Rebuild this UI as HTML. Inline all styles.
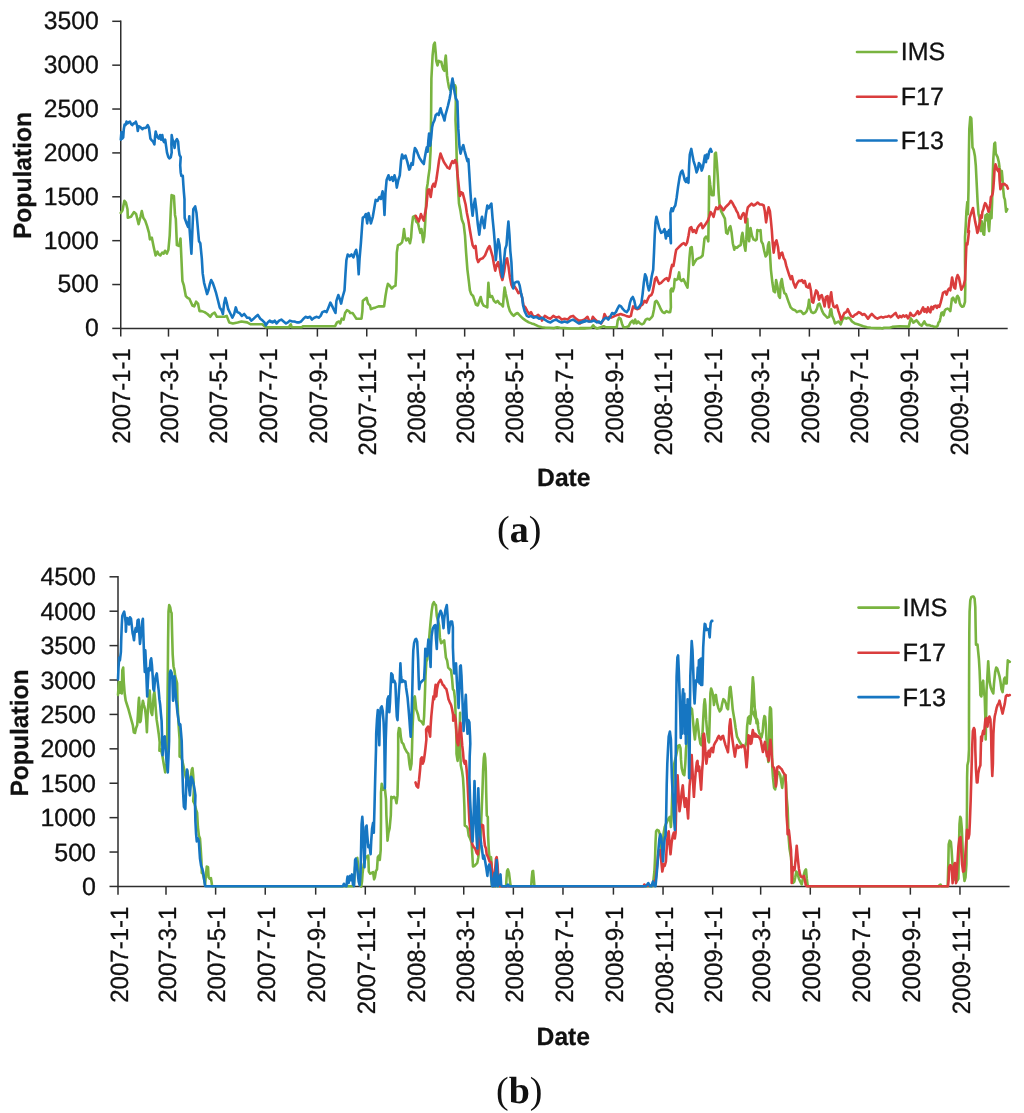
<!DOCTYPE html>
<html><head><meta charset="utf-8"><title>Population charts</title>
<style>
html,body{margin:0;padding:0;background:#fff;}
svg{display:block;will-change:transform;}
text{text-rendering:geometricPrecision;}
.t{font-family:"Liberation Sans",sans-serif;font-size:25px;fill:#111;stroke:#111;stroke-width:0.3px;}
.b{font-family:"Liberation Sans",sans-serif;font-size:25px;font-weight:bold;fill:#111;stroke:#111;stroke-width:0.25px;}
.c{font-family:"Liberation Serif",serif;font-size:38px;fill:#111;}
</style></head><body>
<svg width="1024" height="1113" viewBox="0 0 1024 1113">
<rect width="1024" height="1113" fill="#fff"/>
<polyline points="120.75,20.55 120.75,328.4 1007.7,328.4" fill="none" stroke="#2e2e2e" stroke-width="1.5"/>
<line x1="112.25" x2="120.75" y1="328.40" y2="328.40" stroke="#2e2e2e" stroke-width="1.5"/>
<text transform="translate(98.8,336.30) scale(0.99,1)" text-anchor="end" class="t">0</text>
<line x1="112.25" x2="120.75" y1="284.53" y2="284.53" stroke="#2e2e2e" stroke-width="1.5"/>
<text transform="translate(98.8,292.43) scale(0.99,1)" text-anchor="end" class="t">500</text>
<line x1="112.25" x2="120.75" y1="240.66" y2="240.66" stroke="#2e2e2e" stroke-width="1.5"/>
<text transform="translate(98.8,248.56) scale(0.99,1)" text-anchor="end" class="t">1000</text>
<line x1="112.25" x2="120.75" y1="196.79" y2="196.79" stroke="#2e2e2e" stroke-width="1.5"/>
<text transform="translate(98.8,204.69) scale(0.99,1)" text-anchor="end" class="t">1500</text>
<line x1="112.25" x2="120.75" y1="152.91" y2="152.91" stroke="#2e2e2e" stroke-width="1.5"/>
<text transform="translate(98.8,160.81) scale(0.99,1)" text-anchor="end" class="t">2000</text>
<line x1="112.25" x2="120.75" y1="109.04" y2="109.04" stroke="#2e2e2e" stroke-width="1.5"/>
<text transform="translate(98.8,116.94) scale(0.99,1)" text-anchor="end" class="t">2500</text>
<line x1="112.25" x2="120.75" y1="65.17" y2="65.17" stroke="#2e2e2e" stroke-width="1.5"/>
<text transform="translate(98.8,73.07) scale(0.99,1)" text-anchor="end" class="t">3000</text>
<line x1="112.25" x2="120.75" y1="21.30" y2="21.30" stroke="#2e2e2e" stroke-width="1.5"/>
<text transform="translate(98.8,29.20) scale(0.99,1)" text-anchor="end" class="t">3500</text>
<line x1="120.75" x2="120.75" y1="328.4" y2="336.59999999999997" stroke="#2e2e2e" stroke-width="1.5"/>
<text transform="translate(130.05,348.3) rotate(-90) scale(0.955,1)" text-anchor="end" class="t">2007-1-1</text>
<line x1="168.49" x2="168.49" y1="328.4" y2="336.59999999999997" stroke="#2e2e2e" stroke-width="1.5"/>
<text transform="translate(177.79,348.3) rotate(-90) scale(0.955,1)" text-anchor="end" class="t">2007-3-1</text>
<line x1="217.85" x2="217.85" y1="328.4" y2="336.59999999999997" stroke="#2e2e2e" stroke-width="1.5"/>
<text transform="translate(227.15,348.3) rotate(-90) scale(0.955,1)" text-anchor="end" class="t">2007-5-1</text>
<line x1="267.22" x2="267.22" y1="328.4" y2="336.59999999999997" stroke="#2e2e2e" stroke-width="1.5"/>
<text transform="translate(276.52,348.3) rotate(-90) scale(0.955,1)" text-anchor="end" class="t">2007-7-1</text>
<line x1="317.39" x2="317.39" y1="328.4" y2="336.59999999999997" stroke="#2e2e2e" stroke-width="1.5"/>
<text transform="translate(326.69,348.3) rotate(-90) scale(0.955,1)" text-anchor="end" class="t">2007-9-1</text>
<line x1="366.75" x2="366.75" y1="328.4" y2="336.59999999999997" stroke="#2e2e2e" stroke-width="1.5"/>
<text transform="translate(376.05,348.3) rotate(-90) scale(0.955,1)" text-anchor="end" class="t">2007-11-1</text>
<line x1="416.11" x2="416.11" y1="328.4" y2="336.59999999999997" stroke="#2e2e2e" stroke-width="1.5"/>
<text transform="translate(425.41,348.3) rotate(-90) scale(0.955,1)" text-anchor="end" class="t">2008-1-1</text>
<line x1="464.66" x2="464.66" y1="328.4" y2="336.59999999999997" stroke="#2e2e2e" stroke-width="1.5"/>
<text transform="translate(473.96,348.3) rotate(-90) scale(0.955,1)" text-anchor="end" class="t">2008-3-1</text>
<line x1="514.02" x2="514.02" y1="328.4" y2="336.59999999999997" stroke="#2e2e2e" stroke-width="1.5"/>
<text transform="translate(523.32,348.3) rotate(-90) scale(0.955,1)" text-anchor="end" class="t">2008-5-1</text>
<line x1="563.38" x2="563.38" y1="328.4" y2="336.59999999999997" stroke="#2e2e2e" stroke-width="1.5"/>
<text transform="translate(572.68,348.3) rotate(-90) scale(0.955,1)" text-anchor="end" class="t">2008-7-1</text>
<line x1="613.55" x2="613.55" y1="328.4" y2="336.59999999999997" stroke="#2e2e2e" stroke-width="1.5"/>
<text transform="translate(622.85,348.3) rotate(-90) scale(0.955,1)" text-anchor="end" class="t">2008-9-1</text>
<line x1="662.91" x2="662.91" y1="328.4" y2="336.59999999999997" stroke="#2e2e2e" stroke-width="1.5"/>
<text transform="translate(672.21,348.3) rotate(-90) scale(0.955,1)" text-anchor="end" class="t">2008-11-1</text>
<line x1="712.28" x2="712.28" y1="328.4" y2="336.59999999999997" stroke="#2e2e2e" stroke-width="1.5"/>
<text transform="translate(721.58,348.3) rotate(-90) scale(0.955,1)" text-anchor="end" class="t">2009-1-1</text>
<line x1="760.02" x2="760.02" y1="328.4" y2="336.59999999999997" stroke="#2e2e2e" stroke-width="1.5"/>
<text transform="translate(769.32,348.3) rotate(-90) scale(0.955,1)" text-anchor="end" class="t">2009-3-1</text>
<line x1="809.38" x2="809.38" y1="328.4" y2="336.59999999999997" stroke="#2e2e2e" stroke-width="1.5"/>
<text transform="translate(818.68,348.3) rotate(-90) scale(0.955,1)" text-anchor="end" class="t">2009-5-1</text>
<line x1="858.74" x2="858.74" y1="328.4" y2="336.59999999999997" stroke="#2e2e2e" stroke-width="1.5"/>
<text transform="translate(868.04,348.3) rotate(-90) scale(0.955,1)" text-anchor="end" class="t">2009-7-1</text>
<line x1="908.91" x2="908.91" y1="328.4" y2="336.59999999999997" stroke="#2e2e2e" stroke-width="1.5"/>
<text transform="translate(918.21,348.3) rotate(-90) scale(0.955,1)" text-anchor="end" class="t">2009-9-1</text>
<line x1="958.27" x2="958.27" y1="328.4" y2="336.59999999999997" stroke="#2e2e2e" stroke-width="1.5"/>
<text transform="translate(967.57,348.3) rotate(-90) scale(0.955,1)" text-anchor="end" class="t">2009-11-1</text>
<polyline points="120.7,213.0 122.5,210.2 124.4,200.8 125.9,202.6 127.5,209.2 127.8,217.7 131.0,216.8 133.9,212.1 136.1,214.0 138.6,224.3 140.5,216.8 141.8,211.1 143.3,217.7 145.2,220.6 147.1,226.2 149.0,232.8 149.9,239.4 151.8,237.6 153.7,247.0 155.6,255.5 157.4,251.7 158.8,254.5 160.3,255.5 162.2,252.6 163.7,253.6 165.0,250.8 166.9,253.6 168.4,249.8 169.7,235.7 170.8,209.2 171.6,195.1 173.9,196.0 175.0,214.9 175.8,218.7 176.9,245.1 179.2,246.0 180.5,238.5 181.4,258.3 182.4,280.9 183.9,285.7 185.8,296.0 187.6,297.9 189.5,298.9 192.4,305.5 194.2,306.4 196.1,301.7 198.0,303.6 199.5,311.1 201.8,311.1 204.6,312.1 207.4,314.0 210.3,316.8 212.2,314.0 214.6,312.6 216.9,316.8 220.7,316.8 224.4,316.8 226.7,315.9 229.2,322.4 232.9,323.4 237.6,322.4 241.4,321.5 247.1,322.4 250.8,324.3 256.5,324.3 262.2,324.3 265.9,327.2 275.0,327.2 270.0,327.2 279.4,327.2 288.9,327.2 290.8,324.3 291.7,327.2 302.1,327.2 303.0,326.2 317.2,326.2 335.1,326.2 337.0,322.4 338.9,321.5 340.2,323.4 341.7,318.7 343.6,319.6 345.1,313.0 347.0,310.2 348.9,311.1 350.2,313.0 352.6,313.0 354.5,315.9 356.4,318.7 358.7,318.7 361.5,318.7 362.4,311.1 362.8,300.8 365.3,298.9 366.6,297.9 368.1,303.6 370.0,305.5 370.9,309.2 372.8,308.3 375.7,307.4 378.5,306.4 381.3,306.4 384.1,306.4 385.5,296.0 386.6,289.4 387.9,283.8 389.8,285.7 391.7,288.5 393.6,286.6 395.5,285.7 396.4,269.6 396.8,252.6 397.9,245.1 400.2,244.2 402.1,242.3 403.0,237.6 404.0,229.1 404.9,236.6 406.2,240.4 408.1,238.5 410.0,243.2 411.1,237.6 411.9,226.2 413.0,216.8 414.9,215.8 416.2,221.5 418.1,223.4 419.1,228.1 420.4,232.8 421.5,229.1 422.4,235.7 423.2,242.3 424.3,236.6 425.1,224.3 426.8,188.5 427.6,183.9 428.3,177.8 429.6,168.6 430.6,150.3 431.1,116.7 431.4,78.5 432.6,55.5 433.7,44.9 434.8,42.6 435.7,52.5 436.3,60.9 437.5,65.5 438.7,60.9 439.9,61.7 441.3,61.7 442.1,65.5 443.3,69.3 444.4,70.8 445.1,60.1 445.8,55.5 446.4,64.7 447.0,75.4 447.9,81.5 449.0,87.6 450.0,89.9 451.2,89.2 452.0,84.6 452.8,81.5 453.5,85.3 455.1,85.3 455.8,87.6 455.8,104.4 455.5,119.7 456.1,133.8 456.7,158.3 458.0,186.6 459.0,203.6 460.5,211.1 461.8,219.6 463.7,224.3 465.0,235.7 466.1,252.6 467.4,269.6 468.8,280.9 469.9,290.4 471.2,294.1 473.1,296.0 474.4,299.8 475.9,304.5 477.8,305.5 479.3,300.8 480.7,297.0 482.0,302.6 483.5,305.5 485.4,306.4 487.3,307.4 487.8,294.1 488.4,282.8 489.1,292.3 490.1,297.0 492.0,296.0 493.9,300.8 495.8,302.6 497.6,300.8 499.5,303.6 501.4,304.5 502.9,306.4 503.9,294.1 504.6,287.6 505.8,294.1 507.1,299.8 508.4,306.4 509.9,311.1 511.8,314.0 513.7,315.9 515.6,314.0 517.5,313.0 519.3,314.9 521.2,316.8 523.1,318.7 525.9,320.6 528.8,322.4 531.6,323.4 534.4,324.3 538.2,326.2 542.0,327.2 545.8,327.7 549.5,327.7 554.2,328.1 557.1,327.2 559.9,327.7 564.6,328.1 570.3,328.5 575.9,328.5 585.0,328.5 580.0,328.1 585.7,328.1 591.3,327.7 593.2,325.3 594.7,327.2 597.0,328.5 600.8,327.2 603.6,326.2 605.5,327.2 608.3,327.2 612.1,327.2 616.8,327.2 617.7,320.6 619.2,317.7 620.6,318.7 621.9,323.4 623.4,327.2 626.2,327.2 628.7,326.2 630.6,322.4 632.5,320.6 633.8,323.4 635.1,319.6 636.6,323.4 638.1,321.5 640.0,323.4 641.9,324.3 643.8,323.4 645.7,319.6 647.5,318.7 649.4,319.6 651.3,317.7 652.6,315.9 654.0,309.2 655.1,301.7 656.4,300.8 657.7,302.6 659.2,305.5 660.8,309.2 662.6,312.1 664.5,313.0 666.4,311.1 668.3,312.1 670.2,312.1 670.9,307.4 670.6,290.4 671.5,288.5 672.8,291.3 674.0,287.6 674.7,279.1 676.2,280.0 677.7,279.1 679.1,272.4 680.0,279.1 681.5,280.9 683.4,279.1 684.7,281.9 686.0,284.7 687.5,287.6 688.5,273.4 689.4,258.3 690.4,247.9 691.7,247.0 692.5,254.5 693.2,264.9 694.7,262.1 696.6,259.2 698.5,258.3 700.8,257.4 702.6,255.5 703.6,247.0 704.5,238.5 706.0,236.6 707.4,238.5 708.3,241.3 708.9,205.5 709.2,176.2 710.2,184.7 711.7,195.1 713.6,195.1 714.3,177.2 714.9,153.6 715.9,152.6 716.8,162.1 717.7,175.3 718.7,194.2 719.6,205.5 721.1,211.1 723.0,214.9 724.9,218.7 726.2,232.8 727.5,233.8 729.1,228.1 730.4,226.2 731.5,231.9 732.8,243.2 734.3,249.8 735.0,247.0 736.9,247.9 738.8,246.0 740.7,245.1 741.6,236.6 742.5,232.8 743.9,243.2 745.4,250.8 746.3,239.4 747.3,218.7 748.2,234.7 749.1,241.3 750.5,228.1 752.0,235.7 753.5,239.4 755.4,240.4 756.7,239.4 757.3,230.0 759.1,230.9 760.5,230.0 761.4,241.3 762.9,244.2 764.2,250.8 765.6,256.4 767.1,254.5 768.0,245.1 769.0,242.3 769.9,252.6 770.9,269.6 772.4,282.8 773.7,291.3 775.0,292.3 776.1,280.0 777.5,286.6 778.8,296.0 779.9,297.9 780.7,282.8 781.8,279.1 783.1,287.6 784.4,293.2 785.9,294.1 787.5,298.9 788.8,302.6 790.7,307.4 792.5,309.2 795.0,310.2 796.9,312.1 799.1,311.1 801.0,311.1 803.3,314.0 805.2,313.0 806.7,311.1 808.2,306.4 809.0,299.8 810.1,308.3 811.4,312.1 813.3,313.0 815.2,312.1 817.1,308.3 818.0,304.5 819.5,303.6 820.9,307.4 822.2,311.1 823.7,314.0 825.6,315.9 827.5,317.7 829.3,316.8 830.3,310.2 831.2,309.2 832.2,315.9 833.5,318.7 835.0,323.4 836.9,322.4 838.8,321.5 840.7,324.3 842.5,319.6 844.4,317.7 846.3,318.7 848.2,317.7 850.1,318.7 852.0,321.5 854.8,323.4 857.6,324.3 860.5,325.3 863.3,326.2 867.1,327.2 870.9,327.7 876.5,328.1 880.3,328.1 882.2,328.5 884.1,327.7 889.7,327.7 892.3,326.9 899.6,326.3 908.8,326.6 910.0,321.4 910.9,318.4 912.1,320.2 913.3,322.7 914.9,321.4 916.5,320.2 918.0,322.1 919.8,324.5 921.6,325.7 923.5,322.7 924.3,321.4 925.5,323.9 927.1,325.1 929.0,325.1 930.8,325.7 932.6,326.1 934.4,326.9 936.3,326.9 937.7,325.7 938.5,322.7 939.7,321.4 940.5,317.8 941.4,312.9 942.6,312.3 943.6,315.3 944.8,310.4 946.0,309.2 947.5,308.6 948.7,309.2 950.3,311.1 951.2,304.4 951.9,298.9 953.1,297.6 954.3,300.1 955.6,302.5 956.8,297.0 957.6,295.8 958.9,298.2 959.7,303.1 960.9,305.6 962.1,306.8 963.7,306.2 965.0,301.9 965.3,286.0 965.0,261.6 965.0,237.2 965.7,226.2 966.4,211.7 967.3,202.0 967.9,214.1 968.5,189.8 968.9,153.5 969.3,129.2 970.3,117.1 971.3,118.3 971.8,129.2 972.5,147.4 973.7,149.8 974.9,155.9 975.8,165.6 976.4,177.7 977.0,189.8 977.6,202.0 978.5,214.1 979.4,217.7 980.0,226.2 981.0,231.1 981.8,221.4 982.7,226.2 983.4,234.1 984.2,234.7 984.9,221.4 985.5,215.3 986.1,220.2 987.0,214.1 987.9,214.7 988.5,226.2 989.1,231.1 989.7,221.4 990.3,211.7 990.9,214.1 991.5,218.3 992.1,202.0 992.7,177.7 993.3,159.6 994.3,143.8 995.1,142.6 995.8,153.5 996.7,155.3 997.6,157.1 998.8,162.0 999.6,168.0 1000.6,172.9 1001.2,180.2 1001.8,171.1 1002.4,177.7 1003.0,187.4 1004.0,197.1 1004.9,199.6 1005.5,205.6 1006.1,211.7 1007.3,209.2" fill="none" stroke="#79b440" stroke-width="2.6" stroke-linejoin="round" stroke-linecap="round"/>
<polyline points="415.7,215.8 417.2,218.7 418.7,221.5 420.0,217.7 420.9,214.0 422.4,217.7 423.8,220.6 425.1,213.0 425.0,214.0 426.5,205.5 427.8,190.4 429.1,189.4 430.7,197.0 432.2,186.6 433.5,183.8 434.8,186.6 436.3,180.0 437.8,169.6 439.1,160.2 440.5,153.6 442.0,157.4 443.9,162.1 445.8,164.9 447.6,167.7 449.5,168.7 451.0,164.0 452.4,161.1 453.7,163.0 455.2,160.2 456.7,164.0 457.4,173.4 458.6,184.7 459.9,196.0 461.2,192.3 462.7,193.2 464.2,198.9 465.6,204.5 466.9,213.0 468.4,220.6 469.9,230.0 471.2,237.6 472.6,245.1 474.1,247.9 475.6,246.0 476.9,258.3 478.2,262.1 480.1,259.2 482.6,258.3 485.0,255.5 486.9,250.8 488.2,247.9 489.5,246.0 491.0,250.8 492.6,256.4 493.9,264.0 495.2,270.6 496.7,264.9 498.2,262.1 499.5,267.7 500.9,275.3 502.4,280.0 504.2,271.5 505.8,260.2 507.1,258.3 508.4,265.9 509.9,277.2 511.4,284.7 512.7,287.6 514.6,286.6 516.5,289.4 518.4,293.2 520.3,291.3 522.2,297.9 523.5,305.5 525.4,307.4 527.3,311.1 529.1,314.0 531.0,312.1 532.9,315.9 535.4,316.8 538.2,314.9 541.0,317.7 542.0,320.6 544.8,315.9 547.6,317.7 550.5,318.7 553.3,315.9 556.1,317.7 559.0,316.8 561.8,319.6 564.6,318.7 567.5,319.6 570.3,316.8 573.1,315.9 575.9,318.7 578.8,320.6 581.6,320.6 585.0,319.6 580.0,323.4 582.8,320.6 585.3,318.7 587.5,316.8 589.4,321.5 591.7,320.6 592.8,316.8 595.1,319.6 597.4,321.5 598.9,322.4 601.1,323.4 603.0,320.6 604.5,314.0 606.0,316.8 607.9,318.7 609.2,316.8 611.1,317.7 613.0,316.8 614.9,315.9 617.7,314.9 620.6,314.0 623.4,314.9 626.2,315.9 629.1,316.8 630.9,315.9 631.9,311.1 633.2,306.4 635.1,308.3 637.5,309.2 639.4,308.3 640.8,305.5 642.6,304.5 644.5,300.8 646.4,302.6 647.9,298.9 649.4,296.0 651.3,295.1 652.6,292.3 654.0,284.7 655.1,279.1 656.4,277.2 657.7,280.9 659.2,283.8 661.1,282.8 663.0,280.9 664.9,279.1 666.8,278.1 668.3,280.9 669.6,277.2 670.9,269.6 672.1,264.9 673.4,265.9 674.3,261.1 675.3,254.5 676.2,249.8 678.1,247.9 680.0,246.0 681.9,244.2 683.8,243.2 685.7,245.1 687.2,242.3 688.5,235.7 689.8,228.1 691.3,227.2 692.8,231.9 694.1,230.0 696.0,232.8 697.4,228.1 699.2,225.3 701.1,223.4 702.6,228.1 704.1,226.2 706.0,223.4 707.9,220.6 709.2,216.8 710.6,212.1 712.1,214.0 713.6,216.8 714.9,211.1 716.2,207.4 718.1,209.2 720.0,205.5 721.5,207.4 723.4,210.2 725.3,207.4 727.2,205.5 729.1,203.6 730.9,200.8 732.8,203.6 734.7,207.4 735.0,207.4 736.5,211.1 737.8,213.0 739.1,217.7 740.7,218.7 742.2,214.9 743.5,213.0 744.8,215.8 745.4,222.4 746.7,213.0 747.8,207.4 749.7,205.5 751.6,203.6 753.5,205.5 755.4,204.5 757.6,202.6 759.9,204.5 761.8,204.5 763.7,205.5 764.8,211.1 766.1,222.4 767.5,213.0 768.6,207.4 769.9,211.1 770.9,220.6 771.8,230.0 772.7,243.2 773.7,252.6 775.0,243.2 776.5,240.4 778.0,247.0 779.3,258.3 780.7,253.6 782.2,252.6 783.7,258.3 785.0,260.2 786.3,265.9 787.8,270.6 789.3,275.3 790.7,279.1 792.0,276.2 793.5,282.8 795.4,287.6 796.9,283.8 798.8,280.9 800.7,280.9 802.0,280.0 803.3,282.8 804.8,280.9 806.3,286.6 808.2,287.6 809.5,283.8 810.9,290.4 812.0,301.7 813.3,302.6 814.6,296.0 816.1,290.4 817.6,292.3 819.0,299.8 820.3,296.0 821.8,295.1 823.3,300.8 824.6,306.4 825.9,297.0 827.5,296.0 829.0,307.4 830.3,297.0 831.2,292.3 832.2,300.8 833.5,306.4 835.0,307.4 836.9,305.5 838.4,311.1 839.7,314.9 841.0,319.6 842.5,316.8 844.4,313.0 846.3,312.1 847.8,309.2 849.1,312.1 851.0,315.9 852.9,316.8 854.8,314.9 856.7,314.0 858.6,312.1 860.5,313.0 862.4,314.9 864.2,314.0 866.1,315.9 868.0,318.7 869.9,315.9 871.8,314.0 873.7,315.9 875.6,317.7 877.5,318.7 879.3,317.7 881.2,316.8 883.1,317.7 885.0,316.8 886.9,316.8 888.8,315.9 890.7,316.8 890.5,317.2 892.3,315.9 894.2,314.1 895.7,312.9 897.0,315.9 898.4,317.8 899.9,315.9 901.5,317.2 903.1,315.3 904.5,316.6 906.4,315.3 908.0,318.4 909.2,316.6 910.4,312.9 911.9,315.3 913.7,315.9 915.3,314.7 916.5,312.9 917.7,311.1 918.9,314.1 920.4,312.9 921.6,310.4 923.1,307.4 924.3,311.7 925.5,309.2 926.8,312.3 928.0,307.4 929.2,311.1 930.4,312.3 931.4,306.8 932.9,309.2 934.1,306.2 935.7,305.6 936.9,308.0 938.1,305.6 939.3,306.8 940.5,303.1 941.8,298.2 943.0,292.8 944.2,292.1 945.4,291.5 946.6,294.6 947.9,290.3 949.1,288.5 950.3,290.3 951.2,283.6 952.1,277.5 953.1,282.4 954.0,287.3 955.2,288.5 956.4,278.7 957.6,275.1 958.9,277.5 960.1,283.6 961.3,289.7 962.5,287.3 963.7,285.4 965.0,279.9 965.6,265.3 966.2,249.4 966.5,243.3 967.4,244.5 968.2,238.4 969.0,231.1 968.1,232.3 968.9,223.8 969.7,217.7 970.9,214.1 972.1,210.4 973.0,208.0 973.9,214.1 975.1,221.4 976.4,227.4 977.3,232.9 978.2,231.1 979.0,226.2 980.0,221.4 981.0,215.3 981.8,217.7 982.4,211.7 983.4,209.2 984.2,205.6 985.1,203.2 986.1,204.4 987.0,206.8 987.9,209.2 988.5,211.7 989.5,209.2 990.3,203.2 990.9,197.1 991.9,195.9 992.7,193.5 993.3,188.6 993.9,180.2 994.5,170.4 995.5,164.4 996.4,166.8 997.2,169.8 998.2,171.1 999.1,169.2 999.6,180.2 1000.4,189.2 1001.2,187.4 1002.1,184.4 1003.0,184.4 1004.2,183.8 1005.5,185.0 1006.7,185.6 1007.9,188.6" fill="none" stroke="#da3d3d" stroke-width="2.6" stroke-linejoin="round" stroke-linecap="round"/>
<polyline points="120.8,139.7 121.4,132.1 122.2,138.6 123.2,137.4 123.8,129.2 124.6,124.5 125.5,125.1 126.5,121.6 127.6,123.4 128.8,122.2 129.9,121.6 131.1,124.0 132.3,125.1 133.5,123.4 134.6,123.4 135.8,121.6 137.0,125.1 137.8,131.0 138.7,126.3 140.1,126.9 141.3,128.0 142.4,129.2 143.6,128.0 145.1,128.0 146.3,127.5 147.7,125.1 148.9,127.5 149.7,133.3 150.4,138.6 151.8,140.3 153.0,141.5 154.4,144.4 155.1,136.2 155.7,131.5 156.5,134.5 157.6,137.4 158.8,138.6 160.0,135.1 161.1,139.7 162.3,135.1 163.1,140.3 164.1,142.1 165.2,139.7 166.1,146.1 167.0,152.6 168.2,156.7 169.3,158.4 170.8,157.2 171.7,152.6 171.4,144.4 171.7,135.1 172.5,139.7 173.8,143.8 174.6,147.9 175.4,141.5 176.9,139.1 178.1,141.5 178.7,149.1 179.5,154.9 180.7,157.2 180.2,165.4 180.7,172.4 181.4,175.9 182.8,175.9 183.3,184.1 183.9,192.3 184.5,199.3 184.5,209.8 184.7,218.0 186.3,222.7 188.0,226.8 188.8,221.5 189.3,216.2 189.5,228.1 191.4,253.6 192.4,230.0 193.3,209.2 195.2,206.4 196.5,213.0 198.0,230.0 199.0,241.3 200.3,243.2 201.8,258.3 202.7,273.4 204.1,282.8 205.6,288.5 207.1,294.1 208.4,290.4 209.9,283.8 211.2,280.0 212.7,282.8 214.4,287.6 215.9,292.3 217.8,299.8 219.7,307.4 221.6,310.2 222.9,314.0 224.1,303.6 225.4,297.9 226.7,302.6 228.2,309.2 230.1,313.0 232.4,317.7 234.2,314.0 235.8,307.4 237.3,312.1 239.5,313.0 241.8,315.9 244.2,314.0 247.1,317.7 249.3,317.7 251.2,320.6 253.7,318.7 255.6,316.8 257.8,314.9 260.3,318.7 262.6,320.6 264.4,322.4 265.9,325.3 267.8,322.4 269.7,320.6 272.6,322.4 275.0,321.5 270.0,321.5 272.8,322.4 274.7,320.6 276.6,323.4 279.1,320.6 281.3,319.6 283.6,321.5 286.0,323.4 287.9,322.4 289.8,320.6 292.3,321.5 294.5,321.5 296.8,322.4 299.2,322.4 301.1,321.5 303.6,318.7 305.5,316.8 307.7,317.7 310.0,316.8 311.9,319.6 314.3,317.7 316.8,316.8 318.7,317.7 320.6,315.9 322.4,312.1 324.7,311.1 326.6,312.1 328.5,307.4 330.4,302.6 332.3,306.4 334.1,310.2 335.5,313.0 336.4,300.8 338.3,295.1 339.8,298.9 341.1,303.6 342.6,297.0 344.5,290.4 345.5,273.4 346.4,260.2 347.7,254.5 349.6,256.4 351.5,254.5 353.4,257.4 354.9,252.6 356.2,249.8 357.7,258.3 358.7,274.3 359.6,258.3 360.9,243.2 362.1,226.2 362.8,217.7 364.3,216.8 365.9,214.0 367.2,223.4 368.5,213.0 370.0,218.7 370.9,223.4 372.8,216.8 374.7,205.5 375.7,199.8 377.6,200.8 379.4,197.0 380.9,198.9 382.6,191.3 383.8,201.7 384.5,214.9 385.5,192.3 386.6,180.0 388.5,175.3 389.8,180.0 391.7,177.2 393.0,180.9 394.5,175.3 396.0,180.9 396.8,187.6 398.3,180.0 399.8,175.3 401.1,160.2 402.1,154.5 403.6,158.3 405.5,155.5 407.4,162.1 409.2,169.6 410.0,168.6 411.5,163.2 412.8,164.8 413.8,154.8 414.9,148.0 416.4,150.3 417.9,154.1 419.5,157.9 421.0,160.2 422.5,162.5 423.8,164.0 425.0,156.4 426.0,151.0 426.8,147.2 427.6,151.8 428.3,141.1 429.1,133.5 430.2,145.7 431.1,138.1 432.1,127.3 433.2,122.8 434.4,120.5 435.7,115.1 437.2,113.6 438.7,115.1 439.8,110.5 440.6,108.3 441.8,112.8 443.3,116.7 444.5,120.5 445.4,115.1 446.7,110.5 447.9,106.0 449.0,101.4 449.7,98.3 450.5,93.7 451.2,86.1 452.5,78.5 453.5,84.6 454.6,92.2 455.8,98.3 457.4,101.4 457.8,113.6 458.3,128.9 459.5,147.0 460.5,153.6 461.8,148.9 463.3,145.1 464.6,150.8 466.1,156.4 467.4,161.1 468.4,159.2 469.3,173.4 470.3,190.4 471.4,205.5 472.6,215.8 473.7,205.5 475.0,198.9 476.3,209.2 477.8,224.3 479.3,234.7 480.7,222.4 482.0,216.8 483.1,222.4 484.4,228.1 485.8,214.9 487.3,205.5 488.8,208.3 490.1,205.5 491.4,203.6 492.6,218.7 493.9,231.9 494.8,243.2 495.8,260.2 496.7,250.8 498.2,239.4 499.5,245.1 500.5,258.3 501.4,271.5 502.4,277.2 503.9,262.1 505.2,248.9 506.5,245.1 507.6,230.0 508.4,221.5 509.5,235.7 510.3,250.8 511.4,262.1 512.2,279.1 513.3,288.5 514.6,282.8 516.5,281.9 518.4,281.9 519.7,285.7 520.9,292.3 522.2,297.9 523.1,305.5 524.6,311.1 526.9,315.9 528.8,316.8 530.7,315.9 533.5,317.7 536.3,316.8 539.1,318.7 542.0,317.7 544.8,319.6 547.6,321.5 550.5,322.4 553.3,320.6 556.1,319.6 559.0,321.5 561.8,322.4 564.6,321.5 567.5,322.4 570.3,320.6 573.1,319.6 575.9,321.5 578.8,323.4 581.6,322.4 585.0,321.5 580.0,322.4 582.8,321.5 585.7,320.6 588.5,321.5 591.3,321.5 594.1,320.6 597.0,322.4 598.9,321.5 600.8,323.4 602.6,320.6 604.5,318.7 606.4,317.7 608.3,319.6 610.2,316.8 612.1,313.0 614.0,314.0 615.9,312.1 617.7,308.3 619.2,305.5 621.1,306.4 623.0,309.2 624.9,311.1 626.8,312.1 628.7,309.2 630.0,302.6 631.3,298.9 632.8,297.0 634.3,300.8 635.7,307.4 637.5,308.3 639.4,306.4 641.3,303.6 642.6,294.1 643.8,282.8 645.1,274.3 646.4,277.2 647.5,284.7 648.9,290.4 650.2,285.7 651.7,276.2 653.2,269.6 654.0,252.6 654.7,235.7 655.5,222.4 656.4,216.8 657.7,221.5 659.2,228.1 661.1,232.8 663.0,231.9 664.5,229.1 665.9,238.5 667.2,231.9 668.3,235.7 669.1,230.0 670.2,236.6 670.9,243.2 670.4,213.0 671.5,208.3 672.8,211.1 674.0,207.4 675.3,205.5 676.6,197.9 678.1,186.6 679.6,177.2 680.9,172.4 682.3,170.6 683.4,174.3 684.7,180.0 686.0,181.9 687.2,178.1 688.5,182.8 689.1,165.8 689.8,154.5 691.3,148.9 692.5,155.5 693.6,161.1 695.1,165.8 696.6,172.4 697.9,168.7 698.9,163.0 700.4,164.9 701.7,170.6 703.0,166.8 704.1,160.2 704.9,155.5 706.0,162.1 706.8,154.5 707.9,158.3 709.2,151.7 710.6,148.9 711.7,151.7" fill="none" stroke="#1676c2" stroke-width="2.6" stroke-linejoin="round" stroke-linecap="round"/>
<line x1="857" x2="896.5" y1="52.0" y2="52.0" stroke="#79b440" stroke-width="2.6" stroke-linecap="round"/>
<text transform="translate(900.8,60.0) scale(1.0,1)" class="t">IMS</text>
<line x1="857" x2="896.5" y1="96.8" y2="96.8" stroke="#da3d3d" stroke-width="2.6" stroke-linecap="round"/>
<text transform="translate(900.8,104.8) scale(1.0,1)" class="t">F17</text>
<line x1="857" x2="896.5" y1="140.5" y2="140.5" stroke="#1676c2" stroke-width="2.6" stroke-linecap="round"/>
<text transform="translate(900.8,148.5) scale(1.0,1)" class="t">F13</text>
<text transform="translate(563.8,486.3) scale(0.985,1)" text-anchor="middle" class="b">Date</text>
<text transform="translate(31.3,175.5) rotate(-90) scale(0.985,1)" text-anchor="middle" class="b">Population</text>
<text x="519.2" y="541.9" text-anchor="middle" class="c">(<tspan font-weight="bold">a</tspan>)</text>
<polyline points="118,576.05 118,886.45 1009.6,886.45" fill="none" stroke="#2e2e2e" stroke-width="1.5"/>
<line x1="109.5" x2="118" y1="886.45" y2="886.45" stroke="#2e2e2e" stroke-width="1.5"/>
<text transform="translate(96.0,895.05) scale(1.0,1)" text-anchor="end" class="t">0</text>
<line x1="109.5" x2="118" y1="852.04" y2="852.04" stroke="#2e2e2e" stroke-width="1.5"/>
<text transform="translate(96.0,860.64) scale(1.0,1)" text-anchor="end" class="t">500</text>
<line x1="109.5" x2="118" y1="817.64" y2="817.64" stroke="#2e2e2e" stroke-width="1.5"/>
<text transform="translate(96.0,826.24) scale(1.0,1)" text-anchor="end" class="t">1000</text>
<line x1="109.5" x2="118" y1="783.23" y2="783.23" stroke="#2e2e2e" stroke-width="1.5"/>
<text transform="translate(96.0,791.83) scale(1.0,1)" text-anchor="end" class="t">1500</text>
<line x1="109.5" x2="118" y1="748.83" y2="748.83" stroke="#2e2e2e" stroke-width="1.5"/>
<text transform="translate(96.0,757.43) scale(1.0,1)" text-anchor="end" class="t">2000</text>
<line x1="109.5" x2="118" y1="714.42" y2="714.42" stroke="#2e2e2e" stroke-width="1.5"/>
<text transform="translate(96.0,723.02) scale(1.0,1)" text-anchor="end" class="t">2500</text>
<line x1="109.5" x2="118" y1="680.02" y2="680.02" stroke="#2e2e2e" stroke-width="1.5"/>
<text transform="translate(96.0,688.62) scale(1.0,1)" text-anchor="end" class="t">3000</text>
<line x1="109.5" x2="118" y1="645.61" y2="645.61" stroke="#2e2e2e" stroke-width="1.5"/>
<text transform="translate(96.0,654.21) scale(1.0,1)" text-anchor="end" class="t">3500</text>
<line x1="109.5" x2="118" y1="611.21" y2="611.21" stroke="#2e2e2e" stroke-width="1.5"/>
<text transform="translate(96.0,619.81) scale(1.0,1)" text-anchor="end" class="t">4000</text>
<line x1="109.5" x2="118" y1="576.80" y2="576.80" stroke="#2e2e2e" stroke-width="1.5"/>
<text transform="translate(96.0,585.40) scale(1.0,1)" text-anchor="end" class="t">4500</text>
<line x1="118.00" x2="118.00" y1="886.45" y2="894.6500000000001" stroke="#2e2e2e" stroke-width="1.5"/>
<text transform="translate(127.80,906.5) rotate(-90) scale(0.962,1)" text-anchor="end" class="t">2007-1-1</text>
<line x1="166.00" x2="166.00" y1="886.45" y2="894.6500000000001" stroke="#2e2e2e" stroke-width="1.5"/>
<text transform="translate(175.80,906.5) rotate(-90) scale(0.962,1)" text-anchor="end" class="t">2007-3-1</text>
<line x1="215.62" x2="215.62" y1="886.45" y2="894.6500000000001" stroke="#2e2e2e" stroke-width="1.5"/>
<text transform="translate(225.42,906.5) rotate(-90) scale(0.962,1)" text-anchor="end" class="t">2007-5-1</text>
<line x1="265.24" x2="265.24" y1="886.45" y2="894.6500000000001" stroke="#2e2e2e" stroke-width="1.5"/>
<text transform="translate(275.04,906.5) rotate(-90) scale(0.962,1)" text-anchor="end" class="t">2007-7-1</text>
<line x1="315.68" x2="315.68" y1="886.45" y2="894.6500000000001" stroke="#2e2e2e" stroke-width="1.5"/>
<text transform="translate(325.48,906.5) rotate(-90) scale(0.962,1)" text-anchor="end" class="t">2007-9-1</text>
<line x1="365.30" x2="365.30" y1="886.45" y2="894.6500000000001" stroke="#2e2e2e" stroke-width="1.5"/>
<text transform="translate(375.10,906.5) rotate(-90) scale(0.962,1)" text-anchor="end" class="t">2007-11-1</text>
<line x1="414.93" x2="414.93" y1="886.45" y2="894.6500000000001" stroke="#2e2e2e" stroke-width="1.5"/>
<text transform="translate(424.73,906.5) rotate(-90) scale(0.962,1)" text-anchor="end" class="t">2008-1-1</text>
<line x1="463.74" x2="463.74" y1="886.45" y2="894.6500000000001" stroke="#2e2e2e" stroke-width="1.5"/>
<text transform="translate(473.54,906.5) rotate(-90) scale(0.962,1)" text-anchor="end" class="t">2008-3-1</text>
<line x1="513.36" x2="513.36" y1="886.45" y2="894.6500000000001" stroke="#2e2e2e" stroke-width="1.5"/>
<text transform="translate(523.16,906.5) rotate(-90) scale(0.962,1)" text-anchor="end" class="t">2008-5-1</text>
<line x1="562.98" x2="562.98" y1="886.45" y2="894.6500000000001" stroke="#2e2e2e" stroke-width="1.5"/>
<text transform="translate(572.78,906.5) rotate(-90) scale(0.962,1)" text-anchor="end" class="t">2008-7-1</text>
<line x1="613.42" x2="613.42" y1="886.45" y2="894.6500000000001" stroke="#2e2e2e" stroke-width="1.5"/>
<text transform="translate(623.22,906.5) rotate(-90) scale(0.962,1)" text-anchor="end" class="t">2008-9-1</text>
<line x1="663.04" x2="663.04" y1="886.45" y2="894.6500000000001" stroke="#2e2e2e" stroke-width="1.5"/>
<text transform="translate(672.84,906.5) rotate(-90) scale(0.962,1)" text-anchor="end" class="t">2008-11-1</text>
<line x1="712.67" x2="712.67" y1="886.45" y2="894.6500000000001" stroke="#2e2e2e" stroke-width="1.5"/>
<text transform="translate(722.47,906.5) rotate(-90) scale(0.962,1)" text-anchor="end" class="t">2009-1-1</text>
<line x1="760.66" x2="760.66" y1="886.45" y2="894.6500000000001" stroke="#2e2e2e" stroke-width="1.5"/>
<text transform="translate(770.46,906.5) rotate(-90) scale(0.962,1)" text-anchor="end" class="t">2009-3-1</text>
<line x1="810.29" x2="810.29" y1="886.45" y2="894.6500000000001" stroke="#2e2e2e" stroke-width="1.5"/>
<text transform="translate(820.09,906.5) rotate(-90) scale(0.962,1)" text-anchor="end" class="t">2009-5-1</text>
<line x1="859.91" x2="859.91" y1="886.45" y2="894.6500000000001" stroke="#2e2e2e" stroke-width="1.5"/>
<text transform="translate(869.71,906.5) rotate(-90) scale(0.962,1)" text-anchor="end" class="t">2009-7-1</text>
<line x1="910.35" x2="910.35" y1="886.45" y2="894.6500000000001" stroke="#2e2e2e" stroke-width="1.5"/>
<text transform="translate(920.15,906.5) rotate(-90) scale(0.962,1)" text-anchor="end" class="t">2009-9-1</text>
<line x1="959.97" x2="959.97" y1="886.45" y2="894.6500000000001" stroke="#2e2e2e" stroke-width="1.5"/>
<text transform="translate(969.77,906.5) rotate(-90) scale(0.962,1)" text-anchor="end" class="t">2009-11-1</text>
<polyline points="118.0,694.9 118.9,682.0 119.9,692.8 120.9,682.0 121.8,693.5 122.3,670.5 123.2,667.6 123.8,682.0 124.7,693.5 125.7,700.7 127.1,705.0 128.5,709.3 130.0,715.0 131.4,720.1 132.8,725.1 133.8,732.3 135.0,733.0 136.1,728.0 137.2,725.1 137.9,715.0 138.6,702.1 139.0,697.8 139.6,707.9 140.0,722.2 140.7,720.8 141.9,707.9 142.9,700.7 143.9,705.0 145.1,709.3 146.2,719.4 146.9,732.3 147.6,715.0 148.7,699.2 149.7,690.6 150.2,699.2 151.1,712.2 152.2,715.0 153.0,705.0 153.7,694.9 154.4,692.0 155.1,699.2 155.8,709.3 156.6,719.4 157.7,726.5 158.7,733.7 159.7,742.3 159.4,750.8 160.9,749.4 162.3,755.1 163.7,763.7 165.2,772.4 166.6,763.7 167.2,749.4 167.3,719.4 167.8,676.2 168.1,640.3 168.5,611.6 169.2,605.1 170.2,607.2 170.9,611.6 171.6,613.0 172.1,633.1 172.7,654.7 173.5,666.2 174.5,670.5 175.2,676.2 176.4,680.5 177.1,683.4 177.4,699.2 178.1,715.0 178.8,728.0 179.6,739.5 179.6,756.6 181.0,756.6 182.4,760.9 183.9,768.1 185.0,773.8 186.0,778.1 187.4,770.9 188.9,782.4 190.8,778.1 191.8,769.5 192.5,768.1 193.2,775.2 193.9,789.6 193.2,801.1 194.6,804.0 196.1,809.7 197.1,812.6 197.9,827.0 198.9,835.6 200.0,838.5 200.8,850.0 201.4,860.0 201.8,873.0 202.8,873.7 204.0,878.7 205.1,884.5 206.1,873.0 206.8,866.5 208.0,867.2 208.6,877.3 209.7,878.7 210.9,878.0 211.9,884.5 212.3,886.2 232.0,886.2 335.0,886.2 353.7,886.2 354.4,878.7 355.1,867.2 356.3,859.3 357.3,857.9 358.0,864.4 359.1,875.9 360.1,884.5 361.2,886.6 362.0,881.6 362.6,873.0 363.7,864.4 365.9,857.2 368.3,855.7 368.8,871.5 370.2,873.7 371.6,873.0 373.1,872.2 374.1,879.4 374.9,877.3 376.0,870.8 377.0,869.4 377.8,857.2 378.8,855.7 379.8,860.0 380.7,850.0 381.0,821.2 381.0,792.5 381.7,783.9 383.1,789.6 385.0,789.6 386.0,799.7 386.4,815.5 387.0,828.4 387.5,840.6 388.5,832.7 389.6,828.4 390.8,815.5 391.3,796.8 392.5,798.2 393.9,796.8 395.4,798.2 396.5,803.3 397.5,795.4 397.9,778.1 398.2,749.4 398.2,733.7 399.0,728.0 400.0,728.7 400.8,736.6 401.8,742.3 403.3,743.8 404.7,748.1 406.9,752.2 408.3,753.7 409.4,763.7 410.4,769.5 411.5,763.7 412.0,749.4 412.2,740.9 412.6,726.5 413.3,712.2 414.1,697.8 414.8,696.4 415.5,702.1 416.2,709.3 417.2,712.2 418.1,715.0 419.1,720.1 420.5,720.8 421.9,722.2 423.4,724.4 424.1,716.5 424.8,697.8 425.5,676.2 426.3,661.9 427.3,659.0 428.4,647.5 429.6,633.1 430.6,621.6 431.6,611.6 432.7,604.4 433.9,602.2 434.9,604.4 435.9,605.1 436.8,615.9 438.2,621.6 439.2,625.9 439.9,637.4 441.1,643.2 442.8,641.7 444.2,640.3 444.9,647.5 445.9,657.5 447.1,660.4 448.2,667.6 449.7,669.0 451.1,670.5 452.1,679.1 452.9,689.2 454.0,690.6 455.0,699.2 455.5,712.2 456.0,726.5 456.5,740.9 456.5,753.7 457.6,760.9 458.6,749.4 459.4,739.3 460.1,712.9 459.9,743.6 460.4,756.6 460.8,765.2 462.0,770.9 463.0,778.1 463.7,789.6 464.4,806.9 464.8,825.5 466.3,826.3 467.7,828.4 468.7,835.6 470.1,838.5 471.6,842.8 472.3,854.3 473.0,866.5 474.5,865.8 475.9,864.4 477.3,862.9 478.3,857.2 479.2,850.0 480.2,842.8 480.9,828.4 481.8,806.9 482.4,792.5 483.1,770.9 483.8,758.0 484.5,753.7 485.2,758.0 485.8,770.9 486.2,792.5 486.8,815.5 487.8,816.9 488.1,835.6 488.8,850.0 489.6,858.6 491.0,857.2 491.7,864.4 491.3,878.7 492.1,886.2 506.1,886.2 506.5,878.7 507.1,870.8 507.9,869.4 509.0,873.0 509.7,878.7 510.4,884.5 511.1,886.2 531.2,886.2 531.7,878.7 532.4,871.5 533.1,870.8 533.8,878.7 534.4,886.2 565.0,886.2 652.9,886.2 653.6,878.7 654.4,871.5 655.1,857.2 655.5,842.8 656.1,831.3 657.2,829.9 658.7,830.6 659.8,834.2 660.8,844.2 661.6,850.0 662.7,844.2 663.7,832.7 664.7,827.0 665.9,824.1 667.3,821.2 668.7,818.4 669.9,816.9 670.9,827.0 671.6,815.5 672.3,792.5 673.1,781.0 674.2,763.7 675.9,756.6 677.4,749.4 678.1,745.9 679.5,745.2 680.5,748.1 681.0,759.4 681.7,768.1 683.1,773.8 684.3,775.2 685.3,763.7 686.0,749.4 688.9,719.4 691.0,707.9 692.0,709.3 692.9,719.4 693.9,730.9 694.9,739.5 696.0,728.0 697.2,719.4 698.2,728.0 699.2,736.6 700.4,743.8 701.5,745.2 702.5,733.7 703.2,719.4 704.0,705.0 704.7,699.2 705.4,705.0 706.1,719.4 707.3,733.7 708.3,740.9 709.0,742.3 709.7,719.4 710.4,693.5 711.1,688.5 711.9,690.6 713.0,694.9 714.0,705.0 714.7,696.4 715.9,694.9 716.9,702.1 718.3,707.9 719.8,711.4 721.2,709.3 722.2,703.5 723.4,699.2 724.8,700.7 725.9,703.5 727.0,707.9 728.0,709.3 728.8,699.2 729.8,687.7 730.5,687.0 731.7,697.8 732.7,709.3 733.4,713.6 734.6,720.8 735.6,728.0 737.0,736.6 738.5,739.5 739.9,742.3 741.3,744.5 742.8,745.9 744.9,746.6 746.4,742.3 747.1,726.5 748.1,717.9 749.2,716.5 750.0,723.7 750.7,719.4 751.8,697.8 752.8,677.7 753.5,683.4 754.3,699.2 755.0,712.2 756.1,717.9 757.1,719.4 758.1,723.7 751.7,710.3 752.3,688.7 752.9,677.2 753.6,688.7 754.3,706.0 755.5,711.7 756.5,723.2 757.5,721.8 758.3,729.0 759.3,733.3 760.4,734.7 761.5,737.6 762.6,731.9 763.6,720.4 764.4,716.0 765.1,716.8 765.8,724.7 766.5,739.0 767.2,753.4 768.4,762.0 769.0,746.2 769.5,717.5 770.1,707.4 771.0,708.9 771.6,724.7 771.9,746.2 772.3,767.8 773.0,777.9 774.1,787.9 775.1,789.4 776.2,783.6 777.3,775.0 778.7,772.1 780.2,775.0 781.3,782.2 782.2,787.9 783.1,779.3 784.2,775.0 785.2,775.0 785.9,782.2 786.6,796.5 787.6,808.0 788.1,821.2 788.5,835.6 789.5,848.5 791.0,857.2 792.0,871.5 793.1,883.0 794.3,881.6 795.3,877.3 796.3,871.5 797.4,873.0 798.9,878.7 800.3,881.6 801.7,884.5 802.9,878.7 803.9,874.4 804.9,870.8 806.0,869.4 806.8,878.7 807.5,884.5 808.2,886.2 870.0,886.2 925.0,886.2 938.7,886.2 939.4,885.2 940.5,884.5 941.5,886.2 947.7,886.2 948.3,864.4 948.7,844.3 949.7,840.7 950.9,842.1 951.6,850.0 952.3,861.5 953.0,870.1 954.5,878.8 956.6,881.6 958.4,878.8 958.9,850.0 959.5,824.1 960.2,816.9 960.9,818.4 961.8,828.4 962.7,850.0 963.5,871.6 964.5,880.9 965.5,877.3 966.4,864.4 966.7,835.6 967.0,806.9 967.1,778.1 967.4,765.2 968.4,760.9 969.0,749.4 969.0,719.4 969.1,676.3 969.3,633.1 969.6,611.6 970.3,600.1 971.3,597.2 972.4,596.5 973.6,596.5 974.6,598.6 975.3,607.2 975.6,625.9 976.0,644.6 977.5,644.6 978.2,651.8 978.9,659.0 979.6,670.5 980.1,683.4 980.4,695.0 981.4,696.4 982.2,683.4 983.2,680.6 983.9,693.5 984.7,696.4 985.4,719.4 985.7,739.5 986.1,719.4 986.5,690.6 987.1,682.0 987.7,670.5 988.2,661.2 988.8,670.5 989.7,682.0 990.8,687.8 991.9,690.6 993.3,693.5 994.0,683.4 995.2,671.9 996.2,667.6 997.2,668.4 998.3,671.9 999.5,676.3 1000.5,682.0 1001.5,689.2 1002.6,692.1 1003.4,684.9 1004.1,679.1 1004.9,677.7 1005.5,683.4 1006.7,683.4 1007.2,670.5 1007.8,660.4 1008.7,661.2 1009.8,661.9" fill="none" stroke="#79b440" stroke-width="2.6" stroke-linejoin="round" stroke-linecap="round"/>
<polyline points="415.5,782.4 416.6,786.0 418.1,787.5 419.1,779.5 420.1,769.5 420.9,758.7 421.9,757.3 422.7,763.7 423.8,760.9 424.8,753.7 425.5,747.9 426.4,739.3 426.1,729.4 427.0,728.0 428.1,726.5 428.7,730.9 429.6,733.7 430.1,736.6 430.6,726.5 431.3,716.5 432.4,705.0 433.4,696.4 434.2,699.2 434.9,690.6 435.6,684.9 436.3,696.4 437.0,689.2 438.2,683.4 439.6,681.3 440.6,679.8 441.6,682.0 442.8,684.9 443.9,685.6 444.9,687.7 446.4,689.2 447.4,693.5 448.5,699.2 449.7,702.1 451.1,705.0 452.1,709.3 453.1,715.0 453.2,720.8 454.3,715.0 455.5,719.4 456.5,732.3 457.2,742.3 458.3,745.2 459.3,733.7 460.4,722.9 461.2,732.3 462.2,745.2 463.0,752.2 463.7,760.9 464.8,763.7 465.8,760.9 466.6,769.5 467.3,778.1 468.0,792.5 468.7,806.9 469.4,821.2 470.9,835.6 472.3,844.2 473.7,847.1 475.2,848.5 476.6,852.9 477.8,854.3 478.8,844.2 480.2,828.4 481.6,824.8 483.1,825.5 483.8,835.6 484.9,845.7 486.0,848.5 486.7,854.3 488.1,857.2 489.6,861.5 491.0,862.2 492.1,870.1 493.1,878.7 493.9,886.2 495.0,871.5 496.0,858.6 496.7,857.2 497.5,864.4 498.2,875.9 498.9,884.5 499.6,886.2 505.4,886.2 565.0,886.2 640.0,886.2 643.6,886.2 644.3,884.5 645.8,885.9 648.6,885.6 652.9,885.2 655.8,878.7 657.2,864.4 658.4,852.9 659.4,850.0 660.4,850.0 661.3,861.5 662.3,871.5 663.7,864.4 664.7,865.8 665.9,861.5 666.6,850.0 667.6,835.6 668.7,831.3 669.5,842.8 670.5,854.3 671.6,842.8 672.8,835.6 673.8,832.7 674.8,838.5 675.6,832.7 676.2,806.9 677.1,785.3 677.6,775.2 678.5,792.5 679.5,811.2 680.5,804.0 681.7,792.5 682.8,785.3 683.8,798.2 684.8,806.9 686.0,798.2 687.1,806.9 688.1,818.4 688.9,799.7 689.6,785.3 690.3,778.1 691.0,763.7 691.7,755.1 692.5,770.9 693.2,785.3 693.9,796.8 694.6,785.3 695.8,770.9 696.8,762.3 697.5,760.9 698.2,770.9 699.2,766.6 700.1,778.1 701.1,789.6 702.1,770.9 703.0,759.4 703.2,735.2 704.0,733.7 704.7,739.5 705.4,752.2 706.4,763.7 707.5,755.1 708.7,750.8 709.7,756.6 710.7,749.4 711.9,747.9 713.0,752.2 714.0,745.1 715.5,742.2 716.9,740.0 717.6,738.0 718.8,735.9 719.8,738.0 720.8,739.5 721.9,736.6 723.1,735.9 724.1,740.2 725.5,745.1 727.0,749.4 728.0,752.2 728.8,740.9 729.4,726.5 730.3,719.4 731.0,726.5 732.0,736.6 733.4,746.5 734.9,756.6 736.0,749.4 737.0,745.1 738.5,747.9 739.9,746.5 741.3,747.2 742.8,745.1 744.2,746.5 744.9,749.4 745.6,756.6 746.6,767.3 747.5,756.6 748.5,735.2 749.5,739.5 750.7,743.8 751.8,736.6 752.8,730.1 753.8,735.2 755.0,733.7 756.4,735.2 757.9,736.6 750.7,736.2 751.4,743.4 752.2,737.6 752.9,730.4 754.0,736.2 755.0,734.7 756.5,735.5 757.9,736.2 759.3,737.6 760.8,740.5 761.8,746.2 762.9,752.0 763.9,746.2 765.0,741.9 765.8,749.1 767.0,756.3 768.0,752.0 768.7,760.6 769.4,749.1 770.4,739.8 771.1,746.2 771.9,757.7 772.7,766.4 774.1,767.8 775.1,775.0 775.9,786.5 776.6,777.9 777.3,767.1 778.7,766.4 780.2,767.8 781.6,769.2 783.1,772.1 784.5,774.3 785.5,775.0 785.9,785.3 786.2,799.7 786.6,815.5 787.4,827.0 787.6,834.2 788.8,829.9 789.5,835.6 790.2,842.8 791.0,850.0 791.4,864.4 791.7,883.0 792.4,873.0 793.4,867.2 794.5,870.1 795.7,858.6 796.7,845.7 797.7,857.2 798.9,868.7 800.0,874.4 801.0,876.6 802.5,877.3 803.9,875.9 804.9,880.2 805.8,885.2 806.8,886.2 870.0,886.2 925.0,886.2 948.0,886.2 948.7,878.8 949.1,867.3 950.2,865.1 951.2,865.8 952.0,873.0 952.6,883.1 953.5,873.0 954.2,864.4 954.9,863.0 955.5,873.0 956.0,883.1 956.9,871.6 957.8,857.2 958.4,847.1 959.5,838.5 960.5,837.1 961.2,850.0 962.1,864.4 963.1,871.6 964.2,870.9 965.2,857.2 966.4,838.5 967.0,829.9 967.8,832.8 968.4,838.5 969.3,834.2 969.9,821.3 970.7,799.7 971.3,778.1 971.9,756.6 972.4,742.2 972.9,730.9 973.9,728.0 974.6,729.5 975.2,739.5 975.3,749.4 975.9,768.1 976.8,782.4 977.5,782.4 978.2,773.8 979.3,768.1 980.4,765.2 980.8,749.4 981.1,736.6 981.8,741.0 982.5,733.8 983.2,730.9 984.2,733.8 984.7,726.6 985.4,719.4 986.5,718.0 987.5,726.6 988.2,719.4 989.4,716.5 990.4,719.4 991.1,733.8 991.4,749.4 991.9,766.6 992.3,776.0 992.9,763.8 993.1,749.4 993.4,733.8 994.0,723.7 994.7,716.5 995.7,712.2 996.6,707.9 997.6,705.0 998.6,703.6 999.5,700.7 1000.5,705.0 1001.5,709.3 1002.6,713.6 1003.8,707.9 1004.8,703.6 1005.8,696.4 1006.9,695.0 1008.4,695.7 1009.8,695.0" fill="none" stroke="#da3d3d" stroke-width="2.6" stroke-linejoin="round" stroke-linecap="round"/>
<polyline points="118.0,679.1 118.5,667.6 119.2,657.5 119.9,660.4 120.9,651.8 121.3,637.4 121.8,624.5 122.3,615.9 123.5,613.0 124.2,611.6 124.9,615.9 125.7,623.1 125.9,631.7 126.4,623.1 127.1,618.0 128.1,618.7 129.0,624.5 130.0,617.3 131.0,618.7 131.8,625.9 132.6,633.1 133.3,636.0 134.0,640.3 134.7,633.1 135.7,628.1 136.7,631.7 137.6,620.2 138.6,619.5 139.3,633.1 140.0,643.9 140.7,637.4 141.5,628.8 142.2,621.6 142.9,618.7 143.3,633.1 143.9,650.4 144.3,661.9 144.8,671.9 145.3,650.4 145.9,661.9 146.5,679.1 147.2,696.4 147.9,682.0 148.7,668.3 149.7,670.5 150.5,660.4 151.2,658.3 151.9,664.7 152.7,676.2 153.4,689.2 154.1,690.6 154.8,682.0 155.8,676.2 156.8,673.4 157.7,682.0 158.7,690.6 159.4,699.2 160.2,705.0 160.9,713.6 161.6,720.8 162.0,733.7 162.3,743.6 162.6,755.1 163.4,743.6 164.0,737.9 164.8,736.4 165.5,746.5 166.3,758.0 167.8,772.4 168.5,756.6 169.1,740.8 169.2,719.4 169.5,690.6 169.8,673.4 170.6,670.5 171.6,672.6 172.4,679.1 173.1,700.7 173.8,682.0 174.5,676.2 175.2,687.7 176.0,699.2 176.7,705.0 177.4,712.2 178.4,719.4 179.3,725.1 180.3,724.4 181.0,732.3 181.7,740.9 182.1,756.6 182.4,770.9 183.1,792.5 183.9,806.9 185.3,809.0 186.0,792.5 186.4,778.1 187.0,769.5 187.9,776.7 188.9,786.7 189.9,795.4 190.8,783.9 191.3,776.7 192.5,779.5 193.6,783.9 194.6,789.6 195.4,795.4 195.1,806.9 195.4,821.2 196.1,834.2 196.8,841.4 197.9,838.5 198.9,841.4 199.4,850.0 200.0,858.6 201.1,865.8 202.3,868.7 203.3,873.0 204.3,880.2 205.1,885.9 206.1,886.2 212.6,886.2 232.0,886.2 335.0,886.2 342.9,886.2 343.9,883.8 345.1,885.9 346.5,886.2 347.2,878.7 347.6,876.6 348.6,883.0 349.4,877.3 350.1,875.9 350.8,880.2 352.0,874.4 353.0,884.5 354.0,885.9 354.6,871.5 355.1,860.0 355.8,858.6 356.6,864.4 357.7,873.0 358.7,881.6 359.7,885.2 360.6,873.0 361.2,842.8 361.6,824.1 362.3,816.9 363.0,827.0 363.7,847.1 364.5,867.2 365.2,844.2 365.9,827.0 366.6,825.5 367.3,835.6 368.3,847.1 369.5,845.7 370.6,854.3 371.2,841.4 372.1,828.4 373.1,822.7 373.8,832.7 374.5,806.9 375.2,778.1 376.0,749.4 376.2,733.7 377.0,719.4 377.8,710.0 378.4,726.5 379.3,745.2 379.8,719.4 380.7,707.9 381.7,706.4 382.7,710.7 383.6,722.2 384.3,739.5 384.6,763.7 384.9,788.2 385.3,763.7 385.7,740.9 386.2,726.5 386.7,712.2 387.5,699.2 388.5,696.4 389.3,712.2 390.0,702.1 390.8,683.4 391.3,673.4 392.5,674.8 393.2,682.0 394.2,680.5 395.4,683.4 396.1,702.1 396.8,716.5 397.5,720.1 398.2,705.0 399.0,690.6 399.7,682.0 400.4,663.3 401.1,676.2 401.8,682.0 403.3,680.5 404.7,682.0 405.4,681.3 406.1,687.7 407.6,697.8 408.6,709.3 409.4,719.4 410.0,728.0 410.7,736.6 411.5,719.4 412.3,690.6 412.9,661.9 413.3,650.4 414.1,643.2 415.2,639.6 416.2,638.9 417.2,641.7 418.1,659.0 418.6,676.2 419.1,689.2 420.1,683.4 421.2,682.0 422.7,680.5 424.1,679.1 424.8,664.7 425.3,648.9 426.3,651.8 427.0,656.1 427.7,647.5 428.4,639.6 429.1,643.2 429.9,654.7 430.6,666.9 431.0,647.5 431.6,636.0 432.7,628.8 434.2,625.9 435.3,625.2 436.0,638.9 436.8,648.9 437.3,633.1 438.2,618.7 439.2,614.4 440.6,610.8 441.6,613.0 442.5,618.7 443.5,628.1 444.2,618.7 445.4,610.1 446.8,605.1 447.5,614.4 448.2,625.9 448.8,633.1 449.7,625.9 450.7,621.6 452.1,621.6 452.9,627.4 452.9,647.5 453.6,664.7 454.3,673.4 455.0,664.0 456.0,663.3 456.9,682.0 457.9,697.8 458.6,707.9 459.3,690.6 460.1,666.2 460.8,665.5 461.5,676.2 462.2,693.5 462.9,712.2 463.6,730.9 464.4,719.4 465.1,705.0 465.8,694.9 466.5,712.2 467.5,733.7 468.4,720.1 469.4,722.2 470.1,736.6 470.3,743.6 469.7,756.6 469.4,778.1 470.1,799.7 471.2,821.2 472.0,835.6 472.6,841.4 473.5,821.2 474.0,799.7 474.5,781.0 475.2,799.7 475.9,821.2 476.6,838.5 477.3,848.5 477.8,821.2 478.3,788.2 478.9,806.9 479.5,824.1 480.2,835.6 481.2,844.2 482.1,850.0 483.1,858.6 484.1,855.7 485.2,861.5 486.4,868.7 487.4,875.9 488.1,867.2 489.3,864.4 490.3,868.7 491.3,878.7 492.1,886.2 493.1,886.2 493.9,878.7 494.6,873.0 495.3,886.2 496.0,870.1 496.7,860.0 497.3,873.0 497.9,886.2 498.9,884.5 499.6,877.3 500.5,874.4 501.1,884.5 501.8,886.2 506.8,886.2 507.9,884.5 509.0,886.2 565.0,886.2 645.8,886.2 647.2,884.5 648.3,883.0 649.8,885.9 651.5,886.2 652.9,881.6 654.4,885.9 655.5,886.2 656.5,875.9 657.5,864.4 658.4,850.0 659.4,838.5 660.4,834.2 661.3,838.5 662.3,850.0 663.0,861.5 663.7,850.0 664.7,838.5 665.6,835.6 666.2,814.0 666.7,785.3 667.3,763.7 668.0,749.4 668.7,736.6 669.9,731.6 670.9,739.5 671.3,756.6 671.9,778.1 672.6,792.5 673.3,804.0 674.2,821.2 674.9,829.9 675.2,806.9 675.5,778.1 675.8,749.4 676.2,705.0 676.6,676.2 677.4,657.5 678.1,655.4 678.8,670.5 679.5,690.6 680.2,712.2 680.8,738.0 681.4,707.9 682.0,733.7 682.5,696.4 683.1,689.2 683.7,719.4 684.3,693.5 684.8,733.7 685.4,705.0 685.9,743.8 686.4,705.0 687.0,733.7 687.6,699.2 688.1,726.5 688.6,705.0 688.9,740.9 688.9,756.6 689.1,778.1 689.6,756.6 689.9,726.5 690.0,705.0 690.3,676.2 691.0,659.0 691.7,641.0 692.5,650.4 693.2,669.0 693.9,690.6 694.6,703.5 695.3,690.6 696.0,680.5 697.2,679.1 697.8,667.6 698.4,682.0 698.9,660.4 699.6,683.4 700.4,659.0 701.1,684.9 701.7,658.3 702.2,684.9 702.5,676.2 703.2,647.5 704.0,633.1 704.7,623.8 705.4,624.5 706.1,630.2 707.5,628.8 708.7,629.5 709.7,637.4 710.1,630.2 710.7,623.1 711.6,620.9 712.3,620.9" fill="none" stroke="#1676c2" stroke-width="2.6" stroke-linejoin="round" stroke-linecap="round"/>
<line x1="858.5" x2="898.6" y1="607.6" y2="607.6" stroke="#79b440" stroke-width="2.6" stroke-linecap="round"/>
<text transform="translate(902.5,616.1) scale(1.012,1)" class="t">IMS</text>
<line x1="858.5" x2="898.6" y1="652.8" y2="652.8" stroke="#da3d3d" stroke-width="2.6" stroke-linecap="round"/>
<text transform="translate(902.5,661.3) scale(1.012,1)" class="t">F17</text>
<line x1="858.5" x2="898.6" y1="697.1" y2="697.1" stroke="#1676c2" stroke-width="2.6" stroke-linecap="round"/>
<text transform="translate(902.5,705.6) scale(1.012,1)" class="t">F13</text>
<text transform="translate(563.3,1045.3) scale(0.985,1)" text-anchor="middle" class="b">Date</text>
<text transform="translate(28.1,733) rotate(-90) scale(0.985,1)" text-anchor="middle" class="b">Population</text>
<text x="519.2" y="1102.6" text-anchor="middle" class="c">(<tspan font-weight="bold">b</tspan>)</text>
</svg>
</body></html>
